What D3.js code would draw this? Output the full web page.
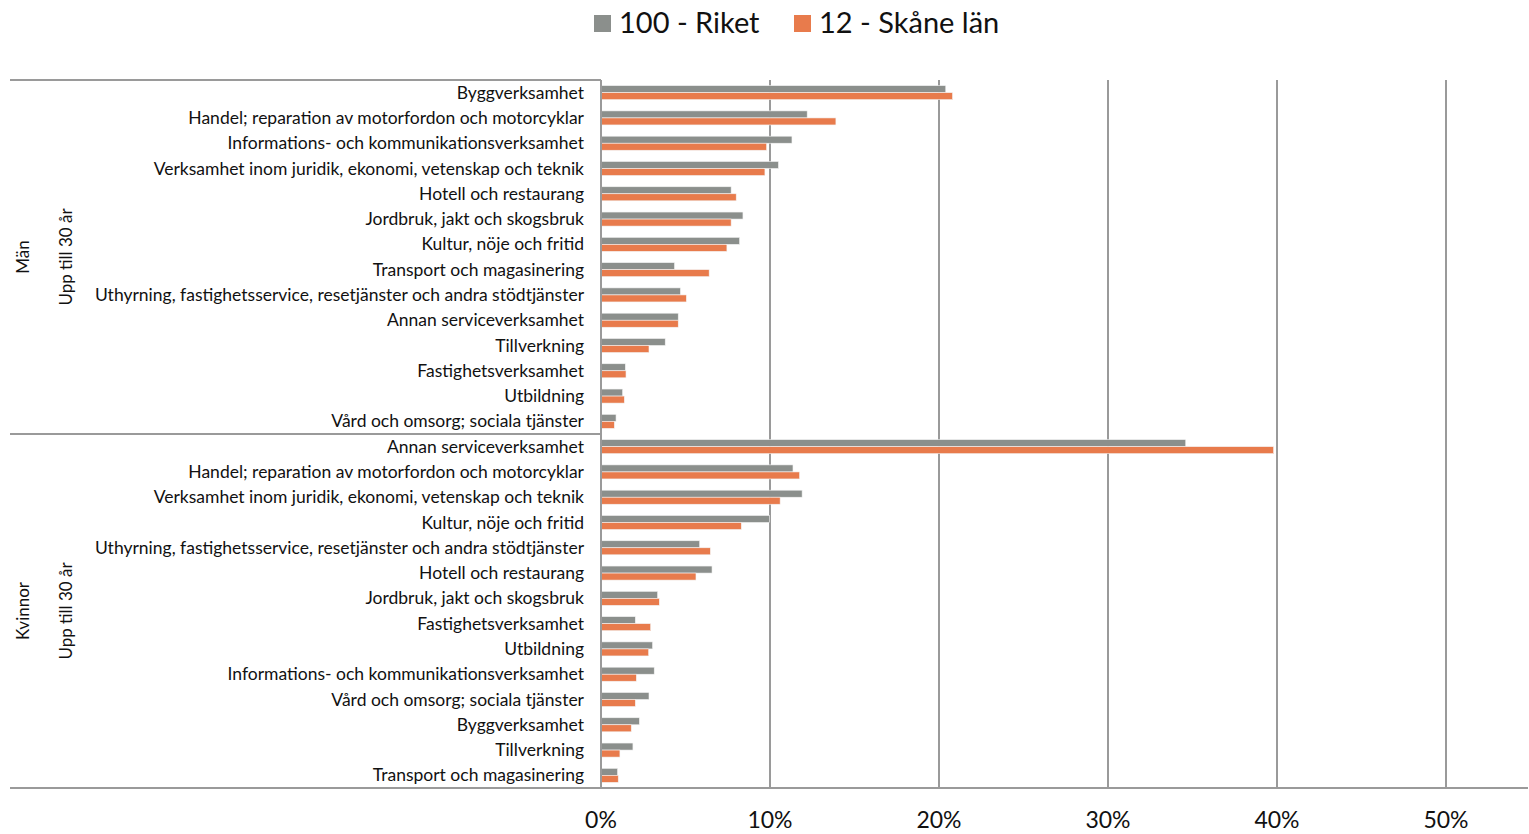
<!DOCTYPE html>
<html>
<head>
<meta charset="utf-8">
<script src="https://cdn.jsdelivr.net/npm/d3@7"></script>
<style>
  body { margin: 0; background: white; }
  svg text { font-family: Lato, "Open Sans", sans-serif; fill: #111; }
</style>
</head>
<body>
<svg id="chart" width="1529" height="834"></svg>
<script>
// categories per group (top to bottom)
var menCategories = ["Byggverksamhet", "Handel; reparation av motorfordon och motorcyklar",
  "Informations- och kommunikationsverksamhet", "Verksamhet inom juridik, ekonomi, vetenskap och teknik",
  "Hotell och restaurang", "Jordbruk, jakt och skogsbruk", "Kultur, nöje och fritid",
  "Transport och magasinering", "Uthyrning, fastighetsservice, resetjänster och andra stödtjänster",
  "Annan serviceverksamhet", "Tillverkning", "Fastighetsverksamhet", "Utbildning",
  "Vård och omsorg; sociala tjänster"];
var menRiket = [20.4, 12.2, 11.3, 10.5, 7.7, 8.4, 8.2, 4.35, 4.7, 4.57, 3.8, 1.44, 1.28, 0.89];
var menSkane = [20.8, 13.9, 9.8, 9.7, 8.0, 7.7, 7.45, 6.4, 5.05, 4.57, 2.84, 1.48, 1.38, 0.79];

var womenCategories = ["Annan serviceverksamhet", "Handel; reparation av motorfordon och motorcyklar",
  "Verksamhet inom juridik, ekonomi, vetenskap och teknik", "Kultur, nöje och fritid",
  "Uthyrning, fastighetsservice, resetjänster och andra stödtjänster", "Hotell och restaurang",
  "Jordbruk, jakt och skogsbruk", "Fastighetsverksamhet", "Utbildning",
  "Informations- och kommunikationsverksamhet", "Vård och omsorg; sociala tjänster",
  "Byggverksamhet", "Tillverkning", "Transport och magasinering"];
var womenRiket = [34.6, 11.36, 11.9, 9.98, 5.84, 6.57, 3.35, 2.03, 3.05, 3.15, 2.84, 2.27, 1.89, 0.98];
var womenSkane = [39.8, 11.75, 10.6, 8.3, 6.47, 5.62, 3.45, 2.94, 2.82, 2.09, 2.03, 1.79, 1.12, 1.02];

var seriesNames = ["100 - Riket", "12 - Skåne län"];
var seriesColors = ["#8b8f8c", "#e87b4c"];
var xTicks = [0, 10, 20, 30, 40, 50];

var groups = [
  { sex: "Män", age: "Upp till 30 år", cats: menCategories, vals: [menRiket, menSkane] },
  { sex: "Kvinnor", age: "Upp till 30 år", cats: womenCategories, vals: [womenRiket, womenSkane] }
];

// flatten rows
var rows = [];
groups.forEach(function(g, gi) {
  g.cats.forEach(function(c, i) {
    rows.push({ key: gi + "-" + i, group: gi, cat: c, values: [g.vals[0][i], g.vals[1][i]] });
  });
});

var svg = d3.select("#chart");
var plotTop = 80, plotBottom = 788, x0 = 601, xEnd = 1528, plotLeft = 10;

var x = d3.scaleLinear().domain([0, 50]).range([x0, 1446]);
var y = d3.scaleBand().domain(rows.map(function(d) { return d.key; })).range([plotTop, plotBottom]);
var ySub = d3.scaleBand().domain([0, 1]).range([0, y.bandwidth()]).paddingOuter(0.8).paddingInner(0);

// gridlines
svg.append("g").selectAll("line").data(xTicks.slice(1)).enter().append("line")
  .attr("x1", function(d) { return x(d); }).attr("x2", function(d) { return x(d); })
  .attr("y1", plotTop).attr("y2", plotBottom)
  .style("stroke", "#9a9a9a").style("stroke-width", 2);

// bars
var rowG = svg.append("g").selectAll("g").data(rows).enter().append("g")
  .attr("transform", function(d) { return "translate(0," + y(d.key) + ")"; });

rowG.selectAll("rect").data(function(d) { return d.values; }).enter().append("rect")
  .attr("x", x(0))
  .attr("y", function(d, i) { return ySub(i); })
  .attr("width", function(d) { return x(d) - x(0); })
  .attr("height", ySub.bandwidth())
  .attr("fill", function(d, i) { return seriesColors[i]; })
  .style("stroke", "#f3f3f3").style("stroke-width", 0.6);

// category labels
rowG.append("text")
  .attr("x", 584)
  .attr("y", y.bandwidth() / 2)
  .attr("dy", "0.35em")
  .attr("text-anchor", "end")
  .style("font-size", "17.5px")
  .text(function(d) { return d.cat; });

// axis line and group borders
svg.append("line").attr("x1", x0).attr("x2", x0).attr("y1", plotTop).attr("y2", plotBottom)
  .style("stroke", "#9a9a9a").style("stroke-width", 2);
svg.append("line").attr("x1", plotLeft).attr("x2", x0).attr("y1", plotTop).attr("y2", plotTop)
  .style("stroke", "#9a9a9a").style("stroke-width", 2);
svg.append("line").attr("x1", plotLeft).attr("x2", x0).attr("y1", y("1-0")).attr("y2", y("1-0"))
  .style("stroke", "#9a9a9a").style("stroke-width", 2);
svg.append("line").attr("x1", plotLeft).attr("x2", xEnd).attr("y1", plotBottom).attr("y2", plotBottom)
  .style("stroke", "#9a9a9a").style("stroke-width", 2);

// group labels
groups.forEach(function(g, gi) {
  var yMid = y(gi + "-0") + (y.bandwidth() * g.cats.length) / 2;
  svg.append("text")
    .attr("transform", "translate(29," + yMid + ") rotate(-90)")
    .attr("text-anchor", "middle")
    .style("font-size", "17px")
    .text(g.sex);
  svg.append("text")
    .attr("transform", "translate(72," + yMid + ") rotate(-90)")
    .attr("text-anchor", "middle")
    .style("font-size", "17px")
    .text(g.age);
});

// x tick labels
svg.append("g").selectAll("text").data(xTicks).enter().append("text")
  .attr("x", function(d) { return x(d); })
  .attr("y", 828)
  .attr("text-anchor", "middle")
  .style("font-size", "23px")
  .text(function(d) { return d + "%"; });

// legend
var legend = svg.append("g").attr("transform", "translate(594,0)");
var legX = [0, 200];
seriesNames.forEach(function(s, i) {
  legend.append("rect").attr("x", legX[i]).attr("y", 15).attr("width", 17).attr("height", 17)
    .attr("fill", seriesColors[i]);
  legend.append("text").attr("x", legX[i] + 25).attr("y", 33)
    .style("font-size", "29px").text(s);
});
</script>
</body>
</html>
